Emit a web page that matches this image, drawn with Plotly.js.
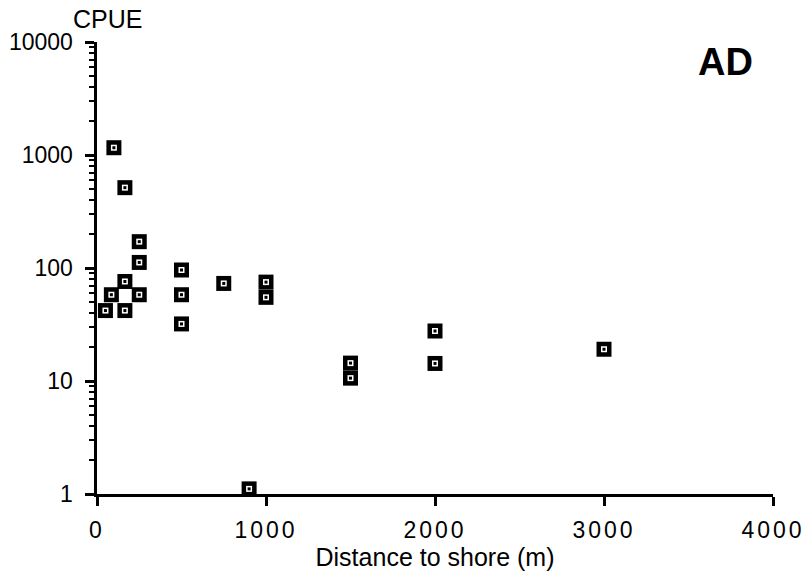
<!DOCTYPE html>
<html>
<head>
<meta charset="utf-8">
<script src="https://cdn.plot.ly/plotly-3.0.1.min.js"></script>
<style>
  html, body { margin: 0; padding: 0; background: #fff; }
  #chart { width: 808px; height: 575px; }
  .xtick text { letter-spacing: 3px; }
</style>
</head>
<body>
<div id="chart"></div>
<script>
// Distance to shore (m)
const distance = [100, 165, 250, 250, 165, 85, 250, 50, 165, 500, 500, 500, 750, 1000, 1000, 900, 1500, 1500, 2000, 2000, 3000];
// CPUE values
const cpue = [1160, 514, 171, 112, 76, 58, 58, 42, 42, 96, 58, 32, 73, 75, 55, 1.11, 14.4, 10.6, 27.7, 14.3, 19.1];

const xTickVals = [0, 1000, 2000, 3000, 4000];
const xTickText = ['0', '1000', '2000', '3000', '4000'];
const yTickVals = [1, 10, 100, 1000, 10000];
const yTickText = ['1', '10', '100', '1000', '10000'];

const FONT = 'Liberation Sans, Arial, Helvetica, sans-serif';

function layer(size, color) {
  return {
    x: distance, y: cpue, type: 'scatter', mode: 'markers',
    marker: { symbol: 'square', size: size, color: color, line: { width: 0 } },
    hoverinfo: 'skip', showlegend: false, cliponaxis: false
  };
}

const data = [layer(15, '#000'), layer(6, '#fff'), layer(3, '#000')];

const layout = {
  width: 808, height: 575,
  margin: { l: 97, r: 35, t: 42, b: 81 },
  paper_bgcolor: '#fff', plot_bgcolor: '#fff',
  font: { family: FONT, color: '#000' },
  showlegend: false,
  xaxis: {
    range: [0, 4000],
    tickvals: xTickVals, ticktext: xTickText,
    ticks: 'outside', ticklen: 9, tickwidth: 3, tickcolor: '#000',
    ticklabelstandoff: 5,
    showline: true, linewidth: 2.5, linecolor: '#000',
    showgrid: false, zeroline: false,
    tickfont: { size: 23, family: FONT },
    title: { text: 'Distance to shore (m)', font: { size: 25, family: FONT }, standoff: 2 },
    automargin: false
  },
  yaxis: {
    type: 'log', range: [0, 4],
    tickvals: yTickVals, ticktext: yTickText,
    ticks: 'outside', ticklen: 9, tickwidth: 3, tickcolor: '#000',
    ticklabelstandoff: 7,
    minor: { ticks: 'outside', ticklen: 5, tickwidth: 2, tickcolor: '#000', dtick: 'D1', showgrid: false },
    showline: true, linewidth: 3.5, linecolor: '#000',
    showgrid: false, zeroline: false,
    tickfont: { size: 23, family: FONT },
    automargin: false
  },
  annotations: [
    { text: 'CPUE', xref: 'paper', yref: 'paper', x: 0.016, y: 1.05,
      xanchor: 'center', yanchor: 'middle', showarrow: false,
      font: { size: 25, family: FONT, color: '#000' } },
    { text: '<b>AD</b>', xref: 'paper', yref: 'paper', x: 0.930, y: 0.956,
      xanchor: 'center', yanchor: 'middle', showarrow: false,
      font: { size: 38, family: FONT, color: '#000' } }
  ]
};

Plotly.newPlot('chart', data, layout, { displayModeBar: false, staticPlot: true });
</script>
</body>
</html>
